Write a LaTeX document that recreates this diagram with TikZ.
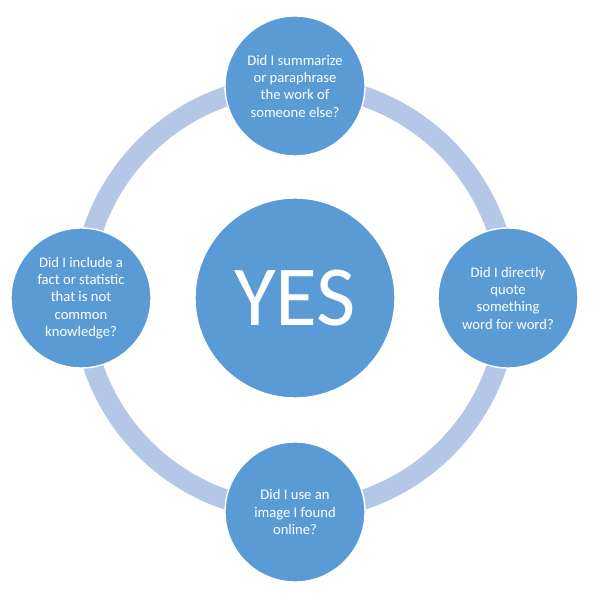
\documentclass[tikz,border=0pt]{standalone}
\usepackage{fontspec}
\setmainfont{Carlito}
\usepackage{tikz}
\usetikzlibrary{positioning}
\definecolor{dotblue}{HTML}{5B9BD5}
\definecolor{ringblue}{HTML}{B4C7E7}
\tikzset{
  bubble/.style={circle, fill=dotblue, draw=white, line width=1.2pt, text=white,
    minimum size=4.2cm, inner sep=0pt, align=center, font=\fontsize{12.5}{14.8}\selectfont},
  ring/.style={draw=ringblue, line width=0.6cm}
}

\begin{document}
\begin{tikzpicture}[x=0.03cm,y=0.03cm]
\useasboundingbox (0,0) rectangle (600,595);
% ring
\coordinate (c) at (295,297);
\draw[ring] (c) circle (213);
% centre
\node[bubble, minimum size=6cm, font=\fontsize{73}{80}\selectfont] (yes) at (c) {YES};
% questions round the ring
\node[bubble] (summ) at ([yshift=212*0.03cm]c) {Did I summarize\\or paraphrase\\the work of\\someone else?};
\node[bubble] (quote) at ([xshift=213*0.03cm]c) {Did I directly\\quote\\something\\word for word?};
\node[bubble] (image) at ([yshift=-214*0.03cm]c) {Did I use an\\image I found\\online?};
\node[bubble] (fact) at ([xshift=-214*0.03cm]c) {Did I include a\\fact or statistic\\that is not\\common\\knowledge?};
\end{tikzpicture}
\end{document}
